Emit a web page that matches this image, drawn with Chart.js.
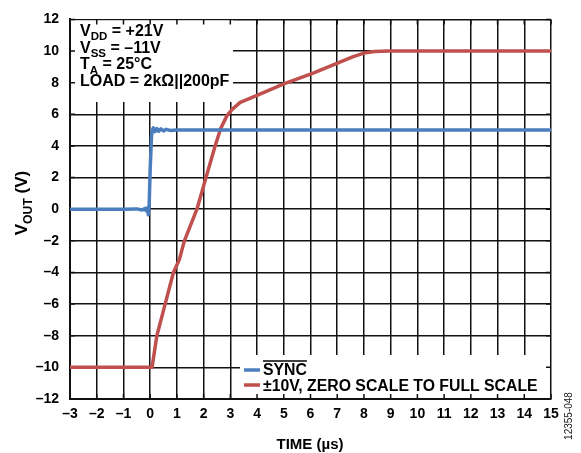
<!DOCTYPE html>
<html>
<head>
<meta charset="utf-8">
<script src="https://cdn.jsdelivr.net/npm/chart.js@4.4.1/dist/chart.umd.min.js"></script>
<style>
  html, body { margin: 0; padding: 0; background: #fff; }
  #wrap { width: 581px; height: 453px; position: relative; }
</style>
</head>
<body>
<div id="wrap"><canvas id="chart"></canvas></div>
<script>
// settling of SYNC and VOUT (time in µs, volts)
const syncTime = [-3, -1, -0.5, -0.3, -0.2, -0.15, -0.1, -0.07, -0.04, 0.0, 0.05, 0.08, 0.12, 0.18, 0.25, 0.32, 0.4, 0.5, 0.6, 0.75, 1, 15];
const syncVolts = [0, 0, 0.02, -0.05, 0.05, -0.1, 0.08, -0.35, 0.1, 2.5, 4.6, 5.0, 5.15, 4.9, 5.1, 4.93, 5.08, 4.95, 5.05, 4.98, 5, 5];

const outTime = [-3, 0.07, 0.25, 0.56, 0.87, 1.09, 1.28, 1.75, 2.09, 2.43, 2.64, 2.87, 3.06, 3.37, 4.0, 5.0, 6.1, 7.1, 7.6, 8.0, 8.4, 8.9, 15];
const outVolts = [-10, -10, -8, -6, -4, -3.2, -2.0, 0, 2.0, 4.0, 5.1, 5.9, 6.3, 6.75, 7.2, 7.93, 8.6, 9.3, 9.65, 9.87, 9.97, 10, 10];

const seriesLabels = ["SYNC", "±10V, ZERO SCALE TO FULL SCALE"];
const xTitle = "TIME (µs)";
const conditions = [
  [["V", 0], ["DD", 1], [" = +21V", 0]],
  [["V", 0], ["SS", 1], [" = –11V", 0]],
  [["T", 0], ["A", 1], [" = 25°C", 0]],
  [["LOAD = 2kΩ||200pF", 0]],
];

const BLUE = "#4a7ebd";
const RED = "#c0504d";
const FONT = 'Arial, "Liberation Sans", sans-serif';

function pts(xs, ys) {
  return xs.map((x, i) => ({ x: x, y: ys[i] }));
}

function dash(v) {
  return v < 0 ? "–" + Math.abs(v) : String(v);
}

// text with subscripts, parts = [[text, isSub], ...]
function drawParts(ctx, parts, x, y, size) {
  for (const [t, sub] of parts) {
    const s = sub ? size * 0.72 : size;
    ctx.font = "bold " + s + "px " + FONT;
    ctx.fillText(t, x, sub ? y + size * 0.27 : y);
    x += ctx.measureText(t).width;
  }
  return x;
}

function partsWidth(ctx, parts, size) {
  let w = 0;
  for (const [t, sub] of parts) {
    ctx.font = "bold " + (sub ? size * 0.72 : size) + "px " + FONT;
    w += ctx.measureText(t).width;
  }
  return w;
}

const overlay = {
  id: "overlay",
  beforeDatasetsDraw(chart) {
    const { ctx, chartArea: a, scales } = chart;
    ctx.save();
    // white boxes behind the conditions text and the legend
    ctx.fillStyle = "#fff";
    ctx.fillRect(a.left + 1, a.top + 1, 233 - a.left - 1, 102 - a.top - 1);
    ctx.fillRect(240, 355, a.right - 1 - 240, a.bottom - 1 - 355);
    // inward tick marks on the frame
    ctx.strokeStyle = "#111";
    ctx.lineWidth = 1.5;
    ctx.beginPath();
    for (let v = -3; v <= 15; v++) {
      const px = scales.x.getPixelForValue(v);
      ctx.moveTo(px, a.top); ctx.lineTo(px, a.top + 5);
      ctx.moveTo(px, a.bottom); ctx.lineTo(px, a.bottom - 5);
    }
    for (let v = -12; v <= 12; v += 2) {
      const py = scales.y.getPixelForValue(v);
      ctx.moveTo(a.left, py); ctx.lineTo(a.left + 5, py);
      ctx.moveTo(a.right, py); ctx.lineTo(a.right - 5, py);
    }
    ctx.stroke();
    ctx.restore();
  },
  afterDraw(chart) {
    const { ctx } = chart;
    ctx.save();
    ctx.fillStyle = "#000";
    ctx.textBaseline = "alphabetic";
    ctx.textAlign = "left";

    // test conditions
    const base = [36, 52.7, 69.3, 86];
    conditions.forEach((p, i) => drawParts(ctx, p, 80, base[i], 16));

    // legend
    ctx.lineWidth = 3.5;
    ctx.strokeStyle = BLUE;
    ctx.beginPath(); ctx.moveTo(244, 370); ctx.lineTo(260, 370); ctx.stroke();
    ctx.strokeStyle = RED;
    ctx.beginPath(); ctx.moveTo(244, 385); ctx.lineTo(260, 385); ctx.stroke();
    ctx.font = "bold 15.8px " + FONT;
    ctx.fillText(seriesLabels[0], 263, 375);
    const w = ctx.measureText(seriesLabels[0]).width;
    ctx.lineWidth = 1.3;
    ctx.strokeStyle = "#000";
    ctx.beginPath(); ctx.moveTo(263, 361); ctx.lineTo(263 + w, 361); ctx.stroke();
    ctx.fillText(seriesLabels[1], 263, 391);

    // x axis title
    ctx.font = "bold 15px " + FONT;
    ctx.textAlign = "center";
    ctx.fillText(xTitle, 310, 449);

    // y axis title
    const yParts = [["V", 0], ["OUT", 1], [" (V)", 0]];
    ctx.save();
    ctx.translate(27, 203);
    ctx.rotate(-Math.PI / 2);
    ctx.textAlign = "left";
    const tw = partsWidth(ctx, yParts, 17);
    drawParts(ctx, yParts, -tw / 2, 0, 17);
    ctx.restore();

    // figure id
    ctx.save();
    ctx.translate(572, 416);
    ctx.rotate(-Math.PI / 2);
    ctx.textAlign = "center";
    ctx.font = "10px " + FONT;
    ctx.fillStyle = "#222";
    ctx.fillText("12355-048", 0, 0);
    ctx.restore();

    ctx.restore();
  },
};

const data = {
  datasets: [
    {
      label: seriesLabels[0],
      data: pts(syncTime, syncVolts),
      borderColor: BLUE,
      borderWidth: 3.5,
      borderJoinStyle: "round",
      pointRadius: 0,
      tension: 0,
    },
    {
      label: seriesLabels[1],
      data: pts(outTime, outVolts),
      borderColor: RED,
      borderWidth: 3.5,
      borderJoinStyle: "round",
      pointRadius: 0,
      tension: 0,
    },
  ],
};

const options = {
  responsive: true,
  maintainAspectRatio: false,
  animation: false,
  layout: { padding: { left: 0, right: 30, top: 16, bottom: 0 } },
  plugins: { legend: { display: false }, tooltip: { enabled: false } },
  scales: {
    x: {
      type: "linear",
      min: -3,
      max: 15,
      afterFit(s) { s.height = 54; },
      grid: { color: "#111", lineWidth: 1.5, drawTicks: false },
      border: { color: "#111", width: 2 },
      ticks: {
        stepSize: 1,
        padding: 7,
        color: "#000",
        font: { family: FONT, size: 14, weight: "bold" },
        callback: (v) => dash(v),
      },
    },
    y: {
      min: -12,
      max: 12,
      afterFit(s) { s.width = 70; },
      grid: { color: "#111", lineWidth: 1.5, drawTicks: false },
      border: { color: "#111", width: 2 },
      ticks: {
        stepSize: 2,
        padding: 11,
        color: "#000",
        font: { family: FONT, size: 14, weight: "bold" },
        callback: (v) => dash(v),
      },
    },
  },
};

new Chart(document.getElementById("chart").getContext("2d"), {
  type: "line",
  data: data,
  options: options,
  plugins: [overlay],
});
</script>
</body>
</html>
